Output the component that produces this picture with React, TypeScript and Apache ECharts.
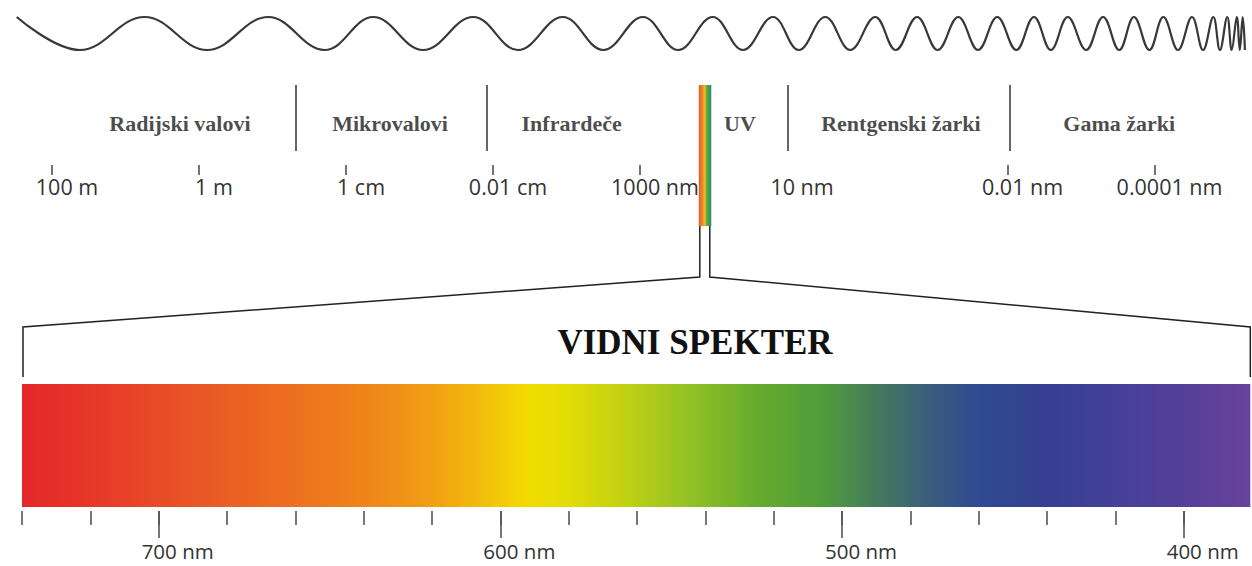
import React, { useEffect, useRef } from "react";
import * as echarts from "echarts";

// ---------- Electromagnetic scale (u = -log10(wavelength in metres)) ----------
const scaleTickValues = [-2, 0, 2, 4, 6, 11, 13];
const scaleLabelValues = [-2, 0, 2, 4, 6, 8, 11, 13];
const scaleLabelTexts = ["100 m", "1 m", "1 cm", "0.01 cm", "1000 nm", "10 nm", "0.01 nm", "0.0001 nm"];

const bandNames = ["Radijski valovi", "Mikrovalovi", "Infrardeče", "UV", "Rentgenski žarki", "Gama žarki"];
const bandCenters = [-0.26, 2.6, 5.07, 7.36, 9.55, 12.52];
const bandBoundaries = [1.31, 3.92, 8.01, 11.03];
const visibleBand = [6.8, 6.97];
const visibleBandOffsets = [0, 0.3, 0.5, 0.62, 0.82, 1];
const visibleBandColors = ["#e05a2a", "#f08a22", "#e8c030", "#6aaa3a", "#3f9a55", "#3a8878"];

// wave extrema (alternating crest / trough), read along the same scale
const waveExtrema = [
  -2.48, -1.62, -0.74, 0.11, 0.94, 1.71, 2.37, 3.05, 3.73, 4.34, 4.95, 5.5, 6.04, 6.52, 6.99, 7.4,
  7.81, 8.16, 8.52, 8.86, 9.2, 9.48, 9.77, 10.05, 10.33, 10.6, 10.86, 11.12, 11.36, 11.59, 11.82,
  12.07, 12.3, 12.52, 12.72, 12.93, 13.12, 13.32, 13.51, 13.66, 13.8, 13.89, 13.99, 14.05, 14.12,
  14.16, 14.2, 14.23,
];

// ---------- Visible spectrum (nm) ----------
const spectrumMin = 380.5;
const spectrumMax = 740;
const spectrumMinorTicks = [740, 720, 700, 680, 660, 640, 620, 600, 580, 560, 540, 520, 500, 480, 460, 440, 420, 400];
const spectrumMajorTicks = [700, 600, 500, 400];
const spectrumStopNm = [740, 715, 690, 665, 640, 620, 605, 592, 580, 565, 545, 525, 505, 490, 475, 460, 440, 420, 400, 380.5];
const spectrumStopColors = [
  "#e4282a", "#e63c28", "#e95526", "#ed6c20", "#ef841a", "#f19e14", "#f2be0c", "#f1dc00", "#e2dc06",
  "#c4d212", "#93c224", "#66ab2c", "#4f9b3c", "#457a5c", "#3a5e7c", "#2f4a90", "#363f92", "#45409a",
  "#55409a", "#6a429a",
];

const W = 1252;
const H = 566;
const U_MIN = -2.5;
const U_MAX = 14.25;
const U_LEFT = 15.25;
const U_RIGHT = W - 1246.375;

const SANS = '"Open Sans", "Noto Sans", sans-serif';
const SERIF = '"Liberation Serif", "DejaVu Serif", serif';

export default function App() {
  const ref = useRef<HTMLDivElement>(null);

  useEffect(() => {
    document.body.style.margin = "0";
    if (!ref.current) return;
    const chart = echarts.init(ref.current, null, { renderer: "svg" });

    const uAxisBase = { type: "value", min: U_MIN, max: U_MAX };

    const option: any = {
      animation: false,
      backgroundColor: "#ffffff",
      grid: [
        { left: U_LEFT, right: U_RIGHT, top: 17, height: 33 },
        { left: U_LEFT, right: U_RIGHT, top: 85, height: 141 },
        { left: U_LEFT, right: U_RIGHT, top: 160, height: 5 },
        { left: 22, right: W - 1250.3, top: 384, height: 123 },
      ],
      xAxis: [
        { ...uAxisBase, gridIndex: 0, show: false },
        { ...uAxisBase, gridIndex: 1, show: false },
        {
          ...uAxisBase,
          gridIndex: 2,
          position: "bottom",
          axisLine: { show: false },
          splitLine: { show: false },
          axisTick: {
            show: true,
            customValues: scaleTickValues,
            length: 10,
            lineStyle: { color: "#444", width: 1.5 },
          },
          axisLabel: {
            show: true,
            customValues: scaleLabelValues,
            formatter: (v: number) => scaleLabelTexts[scaleLabelValues.indexOf(v)] ?? "",
            fontFamily: SANS,
            fontSize: 21.5,
            lineHeight: 20,
            color: "#333",
            margin: 11,
            padding: [0, 0, 0, 30],
          },
        },
        {
          type: "value",
          gridIndex: 3,
          min: spectrumMin,
          max: spectrumMax,
          inverse: true,
          show: false,
        },
        {
          type: "value",
          gridIndex: 3,
          min: spectrumMin,
          max: spectrumMax,
          inverse: true,
          position: "bottom",
          offset: 4,
          axisLine: { show: false },
          splitLine: { show: false },
          axisTick: {
            show: true,
            customValues: spectrumMinorTicks,
            length: 14,
            lineStyle: { color: "#555", width: 1.6 },
          },
          axisLabel: { show: false },
        },
        {
          type: "value",
          gridIndex: 3,
          min: spectrumMin,
          max: spectrumMax,
          inverse: true,
          position: "bottom",
          offset: 4,
          axisLine: { show: false },
          splitLine: { show: false },
          axisTick: {
            show: true,
            customValues: spectrumMajorTicks,
            length: 27,
            lineStyle: { color: "#555", width: 1.6 },
          },
          axisLabel: {
            show: true,
            customValues: spectrumMajorTicks,
            formatter: (v: number) => `${v} nm`,
            fontFamily: SANS,
            fontSize: 20.5,
            lineHeight: 16,
            color: "#333",
            margin: 32,
            padding: [0, 0, 0, 38],
          },
        },
      ],
      yAxis: [
        { type: "value", gridIndex: 0, min: -1, max: 1, show: false },
        { type: "value", gridIndex: 1, min: 0, max: 141, inverse: true, show: false },
        { type: "value", gridIndex: 2, min: 0, max: 1, show: false },
        { type: "value", gridIndex: 3, min: 0, max: 1, show: false },
      ],
      series: [
        {
          type: "line",
          xAxisIndex: 0,
          yAxisIndex: 0,
          data: waveExtrema.map((u, i) => [u, i % 2 === 0 ? 1 : -1]),
          smooth: 0.4,
          symbol: "none",
          clip: false,
          silent: true,
          lineStyle: { color: "#383838", width: 2.2 },
        },
        {
          type: "scatter",
          xAxisIndex: 1,
          yAxisIndex: 1,
          silent: true,
          symbolSize: 1,
          itemStyle: { color: "rgba(0,0,0,0)" },
          data: bandCenters.map((u, i) => ({ value: [u, 38], name: bandNames[i] })),
          label: {
            show: true,
            position: "inside",
            formatter: "{b}",
            fontFamily: SERIF,
            fontWeight: "bold",
            fontSize: 22,
            color: "#1c1c1c",
          },
          markLine: {
            silent: true,
            symbol: ["none", "none"],
            label: { show: false },
            lineStyle: { type: "solid", color: "#333", width: 1.5 },
            data: bandBoundaries.map((u) => [{ coord: [u, 0] }, { coord: [u, 66] }]),
          },
          markArea: {
            silent: true,
            label: { show: false },
            itemStyle: {
              color: new echarts.graphic.LinearGradient(
                0, 0, 1, 0,
                visibleBandColors.map((c, i) => ({ offset: visibleBandOffsets[i], color: c }))
              ),
            },
            data: [[{ coord: [visibleBand[0], 0] }, { coord: [visibleBand[1], 141] }]],
          },
        },
        {
          type: "scatter",
          xAxisIndex: 3,
          yAxisIndex: 3,
          silent: true,
          symbolSize: 0,
          data: [],
          markArea: {
            silent: true,
            label: { show: false },
            itemStyle: {
              color: new echarts.graphic.LinearGradient(
                0, 0, 1, 0,
                spectrumStopNm.map((nm, i) => ({
                  offset: (spectrumMax - nm) / (spectrumMax - spectrumMin),
                  color: spectrumStopColors[i],
                }))
              ),
            },
            data: [[{ coord: [spectrumMax, 0] }, { coord: [spectrumMin, 1] }]],
          },
        },
      ],
    };

    chart.setOption(option);

    const sx = (v: number) => chart.convertToPixel({ xAxisIndex: 1 }, v) as number;
    const bx = (v: number) => chart.convertToPixel({ xAxisIndex: 3 }, v) as number;
    const sL = sx(visibleBand[0]) + 1;
    const sR = sx(visibleBand[1]) - 1.5;
    const bL = bx(spectrumMax) + 1;
    const bR = bx(spectrumMin);

    chart.setOption({
      graphic: [
        {
          type: "polyline",
          silent: true,
          shape: { points: [[sL, 226], [sL, 277], [bL, 327], [bL, 377]] },
          style: { stroke: "#222", lineWidth: 1.5, fill: null },
        },
        {
          type: "polyline",
          silent: true,
          shape: { points: [[sR, 226], [sR, 277], [bR, 327], [bR, 377]] },
          style: { stroke: "#222", lineWidth: 1.5, fill: null },
        },
        {
          type: "text",
          silent: true,
          x: 695,
          y: 342,
          style: {
            text: "VIDNI SPEKTER",
            fontFamily: SERIF,
            fontWeight: "bold",
            fontSize: 35,
            fill: "#111",
            align: "center",
            verticalAlign: "middle",
          },
        },
      ],
    });

    return () => chart.dispose();
  }, []);

  return <div ref={ref} style={{ width: W, height: H }} />;
}
